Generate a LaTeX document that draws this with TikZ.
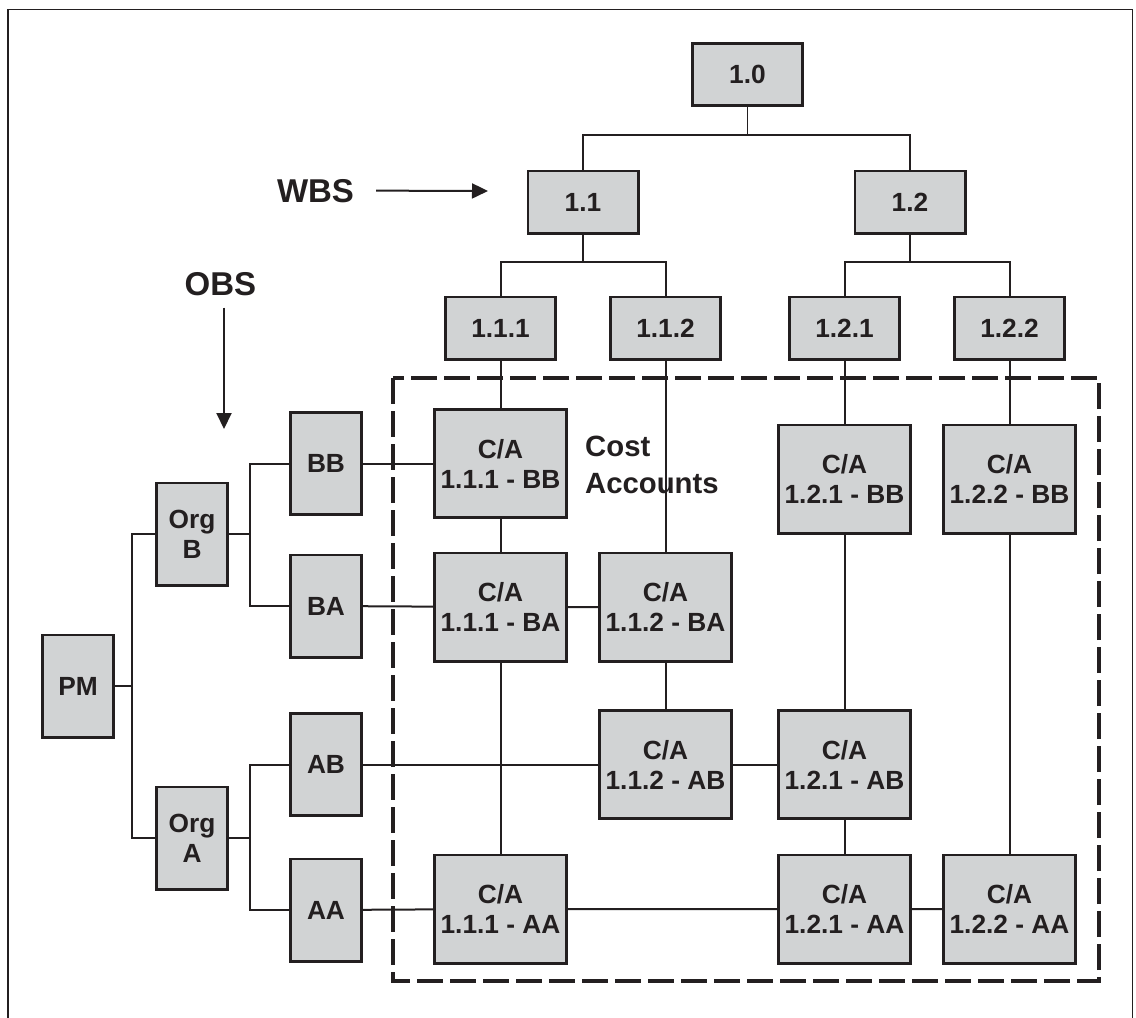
\documentclass[tikz,border=0pt]{standalone}
\usepackage{fontspec}
\setmainfont{Liberation Sans}
\usetikzlibrary{arrows.meta}
\definecolor{ink}{RGB}{35,31,32}
\definecolor{boxgray}{RGB}{209,211,212}

\begin{document}
\begin{tikzpicture}[
    x=1pt, y=-1pt,
    box/.style={draw=ink, fill=boxgray, line width=2.8pt, inner sep=0pt, align=center,
                text=ink, font=\fontsize{26.3}{30}\selectfont\bfseries},
    wbsbox/.style={box, minimum width=110.2pt, minimum height=62.2pt},
    cabox/.style={box, minimum width=132.2pt, minimum height=108.2pt},
    obsbox/.style={box, minimum width=71.2pt, minimum height=102.2pt},
    link/.style={draw=ink, line width=2pt},
    pointer/.style={draw=ink, line width=2pt, -{Triangle[length=16pt, width=15pt]}},
    title/.style={text=ink, inner sep=0pt, font=\fontsize{33}{38}\selectfont\bfseries}
]
\useasboundingbox (0,0) rectangle (1136,1018);

% Marco
\draw[ink, line width=1.6pt] (8,1020) -- (8,9.3) -- (1132.5,9.3) -- (1132.5,1020);

% Etiquetas
\node[title, anchor=base] (wbs) at (315.5,202) {WBS};
\node[title, anchor=base] (obs) at (220.5,295) {OBS};
\coordinate (wbstip) at (488,191);
\coordinate (obstip) at (224,429);
\draw[pointer] (wbs.east) ++(22,0) -- (wbstip);
\draw[pointer] (obstip |- obs.south) ++(0,12) -- (obstip);

\node[text=ink, inner sep=0pt, align=left, anchor=north west,
      font=\fontsize{29.3}{37}\selectfont\bfseries] (cost) at (585,435.5) {Cost\\Accounts};

% WBS
\node[wbsbox] (w10) at (747.5,74.5) {1.0};
\foreach \n/\x/\y/\t in {11/583/202/1.1, 12/910/202/1.2,
                         111/500.5/328/1.1.1, 112/665.5/328/1.1.2,
                         121/844.5/328/1.2.1, 122/1009.5/328/1.2.2} {
    \node[wbsbox] (w\n) at (\x,\y) {\t};
}

% OBS
\node[obsbox] (pm) at (78,686) {PM};
\node[obsbox] (orgB) at (192,534) {Org\\B};
\node[obsbox] (orgA) at (192,838) {Org\\A};
\foreach \n/\y in {BB/463.5, BA/606, AB/764.5, AA/910} {
    \node[obsbox] (o\n) at (326,\y) {\n};
}

% Cuentas de costo
\foreach \n/\x/\y/\t in {111BB/500.5/463.5/{1.1.1 - BB}, 121BB/844.5/479/{1.2.1 - BB},
                         122BB/1009.5/479/{1.2.2 - BB}, 111BA/500.5/607/{1.1.1 - BA},
                         112BA/665.5/607/{1.1.2 - BA}, 112AB/665.5/764.5/{1.1.2 - AB},
                         121AB/844.5/764.5/{1.2.1 - AB}, 111AA/500.5/909/{1.1.1 - AA},
                         121AA/844.5/909/{1.2.1 - AA}, 122AA/1009.5/909/{1.2.2 - AA}} {
    \node[cabox] (ca\n) at (\x,\y) {C/A\\\t};
}

% Conexiones WBS
\coordinate (bar0) at (747.5,135);
\coordinate (bar1) at (583,262);
\coordinate (bar2) at (910,262);
\draw[ink, line width=1.2pt] (w10) -- (bar0);
\draw[link] (w11) |- (bar0) -| (w12);
\draw[link] (w11) -- (bar1);
\draw[link] (w111) |- (bar1) -| (w112);
\draw[link] (w12) -- (bar2);
\draw[link] (w121) |- (bar2) -| (w122);

% Conexiones OBS
\coordinate (trunk) at (132,686);
\coordinate (busB) at (250,534);
\coordinate (busA) at (250,838);
\draw[link] (pm) -- (trunk);
\draw[link] (orgB) -| (trunk) |- (orgA);
\draw[link] (orgB) -- (busB);
\draw[link] (oBB) -| (busB) |- (oBA);
\draw[link] (orgA) -- (busA);
\draw[link] (oAB) -| (busA) |- (oAA);

% Columnas
\draw[link] (w111) -- (ca111BB) -- (ca111BA) -- (ca111AA);
\draw[link] (w112) -- (ca112BA) -- (ca112AB);
\draw[link] (w121) -- (ca121BB) -- (ca121AB) -- (ca121AA);
\draw[link] (w122) -- (ca122BB) -- (ca122AA);

% Filas
\draw[link] (oBB) -- (ca111BB);
\draw[link] (oBA) -- (ca111BA) -- (ca112BA);
\draw[link] (oAB) -- (ca112AB) -- (ca121AB);
\draw[link] (oAA) -- (ca111AA) -- (ca121AA) -- (ca122AA);

% Zona de cuentas
\draw[ink, line width=4pt, dash pattern=on 26pt off 7pt] (393,378) rectangle (1099,981);

\end{tikzpicture}
\end{document}
